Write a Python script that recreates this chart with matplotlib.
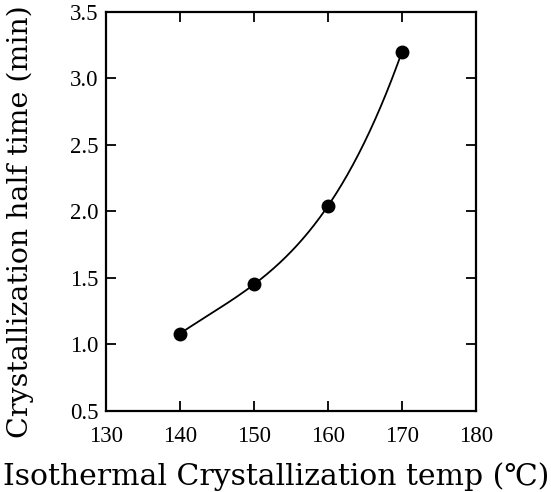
import matplotlib.pyplot as plt
import numpy as np

# isothermal crystallization temperature [C]
temp = [140, 150, 160, 170]
# crystallization half time [min]
half_time = [1.08, 1.45, 2.04, 3.20]

x_ticks = [130, 140, 150, 160, 170, 180]
y_ticks = [0.5, 1.0, 1.5, 2.0, 2.5, 3.0, 3.5]

plt.rcParams['font.family'] = ['Liberation Serif', 'DejaVu Serif', 'DejaVu Sans']

fig = plt.figure(figsize=(5.51, 4.92), dpi=100)
ax = fig.add_axes([0.192, 0.165, 0.672, 0.811])

# smooth curve through the measured points
coef = np.polyfit(temp, half_time, 3)
t_fine = np.linspace(temp[0], temp[-1], 200)
ax.plot(t_fine, np.polyval(coef, t_fine), color="black", lw=1.3)
ax.plot(temp, half_time, "o", color="black", markersize=9)

ax.set_xlim(130, 180)
ax.set_ylim(0.5, 3.5)
ax.set_xticks(x_ticks)
ax.set_yticks(y_ticks)
ax.set_yticklabels([f"{v:.1f}" for v in y_ticks])
ax.tick_params(direction="in", top=True, right=True, length=7, width=1.3,
               labelsize=16.5, pad=5)
ax.tick_params(axis="x", pad=11)
for s in ax.spines.values():
    s.set_linewidth(1.6)

lab_font = ['DejaVu Serif', 'DejaVu Sans']
ax.set_xlabel("Isothermal Crystallization temp (℃)", fontsize=21.5,
              family=lab_font)
ax.set_ylabel("Crystallization half time (min)", fontsize=20.5,
              family=lab_font)
ax.xaxis.set_label_coords(0.46, -0.13)
ax.yaxis.set_label_coords(-0.195, 0.474)

fig.savefig("out.png", dpi=100)
